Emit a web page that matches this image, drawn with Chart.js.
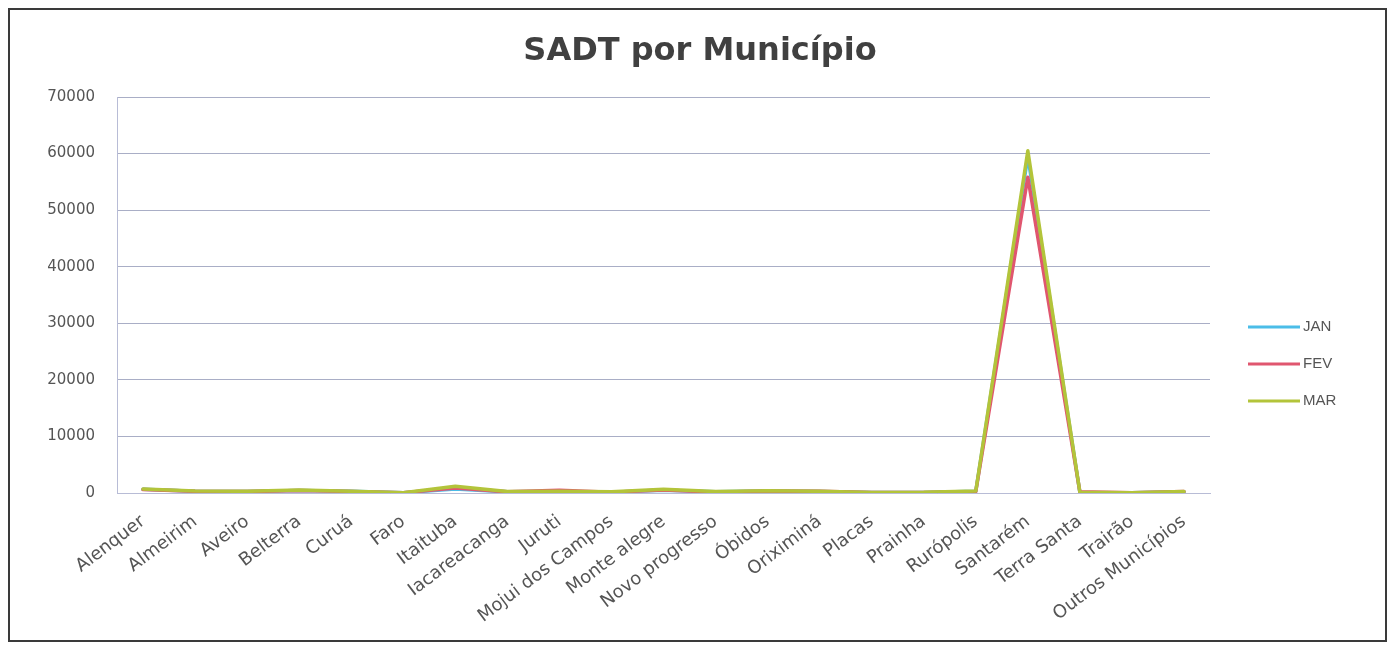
<!DOCTYPE html>
<html>
<head>
<meta charset="utf-8">
<script src="https://cdn.jsdelivr.net/npm/chart.js@4"></script>
<style>
  body { margin: 0; background: #fff; }
  #frame {
    position: absolute; left: 8px; top: 8px;
    width: 1375px; height: 630px;
    border: 2px solid #3a3a3a;
  }
  canvas { display: block; }
</style>
</head>
<body>
<div id="frame"><canvas id="chart" width="1375" height="630"></canvas></div>
<script>
// categories
const municipios = [
  "Alenquer", "Almeirim", "Aveiro", "Belterra", "Curuá", "Faro", "Itaituba",
  "Iacareacanga", "Juruti", "Mojui dos Campos", "Monte alegre", "Novo progresso",
  "Óbidos", "Oriximiná", "Placas", "Prainha", "Rurópolis", "Santarém",
  "Terra Santa", "Trairão", "Outros Municípios"
];

// series values
const jan = [650, 300, 250, 450, 300, 60, 700, 200, 250, 150, 500, 200, 350, 250, 80, 100, 300, 59500, 100, 50, 200];
const fev = [600, 300, 250, 450, 280, 50, 900, 200, 500, 150, 550, 150, 350, 300, 80, 90, 250, 55800, 200, 60, 250];
const mar = [700, 350, 300, 550, 300, 50, 1200, 250, 300, 200, 650, 250, 400, 300, 100, 120, 350, 60500, 120, 50, 250];

// y axis ticks
const yTicks = [0, 10000, 20000, 30000, 40000, 50000, 60000, 70000];

const chartTitle = "SADT por Município";
const textColor = "#555555";

// title and legend drawn by hand so they sit where Excel put them
const decorations = {
  id: "decorations",
  afterDraw(chart) {
    const ctx = chart.ctx;
    const area = chart.chartArea;
    ctx.save();
    ctx.font = "bold 32px 'DejaVu Sans'";
    ctx.fillStyle = "#404040";
    ctx.textAlign = "center";
    ctx.textBaseline = "alphabetic";
    ctx.fillText(chartTitle, 690, 50);

    const x0 = area.right + 38;
    let y = 317;
    ctx.font = "15px 'Liberation Sans'";
    ctx.textAlign = "left";
    ctx.textBaseline = "middle";
    chart.data.datasets.forEach((ds) => {
      ctx.strokeStyle = ds.borderColor;
      ctx.lineWidth = 3;
      ctx.beginPath();
      ctx.moveTo(x0, y);
      ctx.lineTo(x0 + 52, y);
      ctx.stroke();
      ctx.fillStyle = textColor;
      ctx.fillText(ds.label, x0 + 55, y);
      y += 37;
    });
    ctx.restore();
  }
};

const data = {
  labels: municipios,
  datasets: [
    { label: "JAN", data: jan, borderColor: "#4bbde8", backgroundColor: "#4bbde8", order: 2 },
    { label: "FEV", data: fev, borderColor: "#e0566f", backgroundColor: "#e0566f", order: 1 },
    { label: "MAR", data: mar, borderColor: "#b3c43a", backgroundColor: "#b3c43a", order: 0 },
  ],
};

const options = {
  responsive: false,
  animation: false,
  devicePixelRatio: 1,
  layout: { padding: { left: 0, right: 175, top: 87, bottom: 0 } },
  elements: {
    line: { borderWidth: 3.5, tension: 0, borderJoinStyle: "round", borderCapStyle: "round" },
    point: { radius: 0 },
  },
  scales: {
    y: {
      min: 0,
      max: 70000,
      afterFit: (scale) => { scale.width = 107; },
      afterBuildTicks: (scale) => { scale.ticks = yTicks.map((v) => ({ value: v })); },
      ticks: {
        color: textColor,
        font: { family: "'DejaVu Sans'", size: 15 },
        padding: 22,
        callback: (v) => String(v),
      },
      grid: { color: "#a9aec6", drawTicks: false },
      border: { color: "#b8bcd6" },
    },
    x: {
      offset: true,
      afterFit: (scale) => { scale.height = 147; },
      ticks: {
        color: textColor,
        font: { family: "'DejaVu Sans'", size: 18 },
        minRotation: 37,
        maxRotation: 37,
        autoSkip: false,
        padding: 18,
      },
      grid: { display: false, drawTicks: false },
      border: { color: "#b8bcd6" },
    },
  },
  plugins: {
    legend: { display: false },
    tooltip: { enabled: false },
    title: { display: false },
  },
};

new Chart(document.getElementById("chart").getContext("2d"), {
  type: "line",
  data: data,
  options: options,
  plugins: [decorations],
});
</script>
</body>
</html>
